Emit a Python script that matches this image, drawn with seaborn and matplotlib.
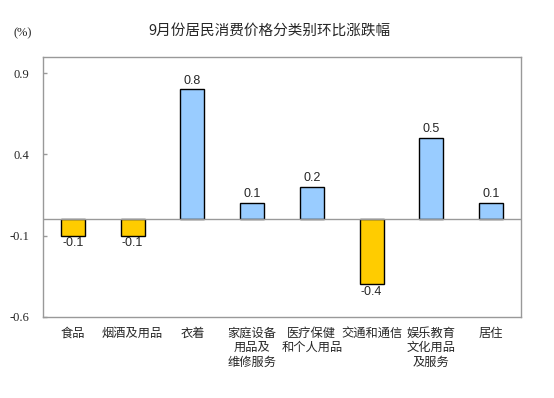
import numpy as np
import pandas as pd
import matplotlib
matplotlib.use("Agg")
import matplotlib.pyplot as plt
import seaborn as sns

categories = ["食品", "烟酒及用品", "衣着", "家庭设备\n用品及\n维修服务",
              "医疗保健\n和个人用品", "交通和通信", "娱乐教育\n文化用品\n及服务", "居住"]
values = [-0.1, -0.1, 0.8, 0.1, 0.2, -0.4, 0.5, 0.1]
y_ticks = [0.9, 0.4, -0.1, -0.6]

sns.set_theme(style="white")
plt.rcParams["font.family"] = ["Noto Sans CJK SC", "DejaVu Sans"]

df = pd.DataFrame({"cat": categories, "val": values})
df["sign"] = np.where(df["val"] >= 0, "up", "down")

fig = plt.figure(figsize=(5.54, 3.98), dpi=100)
ax = fig.add_axes([43 / 554, 1 - 317 / 398, 478 / 554, 260 / 398])

sns.barplot(data=df, x="cat", y="val", hue="sign",
            palette={"up": "#99CCFF", "down": "#FFCC00"}, saturation=1,
            width=0.40, edgecolor="black", linewidth=1,
            legend=False, dodge=False, ax=ax)

ax.set_ylim(-0.6, 1.0)
ax.set_xlim(-0.5, len(categories) - 0.5)
ax.set_yticks(y_ticks)
ax.set_yticklabels([f"{t:.1f}" for t in y_ticks], family="Liberation Serif", fontsize=9)
ax.set_xticks(range(len(categories)))
ax.set_xticklabels(categories, fontsize=8.8, linespacing=1.15, va="top")
ax.tick_params(axis="y", direction="in", length=3, width=1, color="#999999", pad=10, left=True)
ax.tick_params(axis="x", length=0, pad=7)
ax.set_xlabel("")
ax.set_ylabel("")
ax.axhline(0, color="#999999", linewidth=1, zorder=1)
for s in ax.spines.values():
    s.set_color("#999999")
    s.set_linewidth(1)

for i, v in enumerate(values):
    if v >= 0:
        ax.annotate(f"{v:.1f}", (i, v), xytext=(0, 2), textcoords="offset points",
                    ha="center", va="bottom", fontsize=9, family="Liberation Sans")
    else:
        ax.annotate(f"{v:.1f}", (i, v), xytext=(0, -1), textcoords="offset points",
                    ha="center", va="top", fontsize=9, family="Liberation Sans")

fig.text(269 / 554, 1 - 31 / 398, "9月份居民消费价格分类别环比涨跌幅",
         ha="center", va="center", fontsize=10.5)
fig.text(23 / 554, 1 - 33 / 398, "(%)", ha="center", va="center",
         fontsize=9, family="Liberation Serif")

fig.savefig("out.png", dpi=100)
